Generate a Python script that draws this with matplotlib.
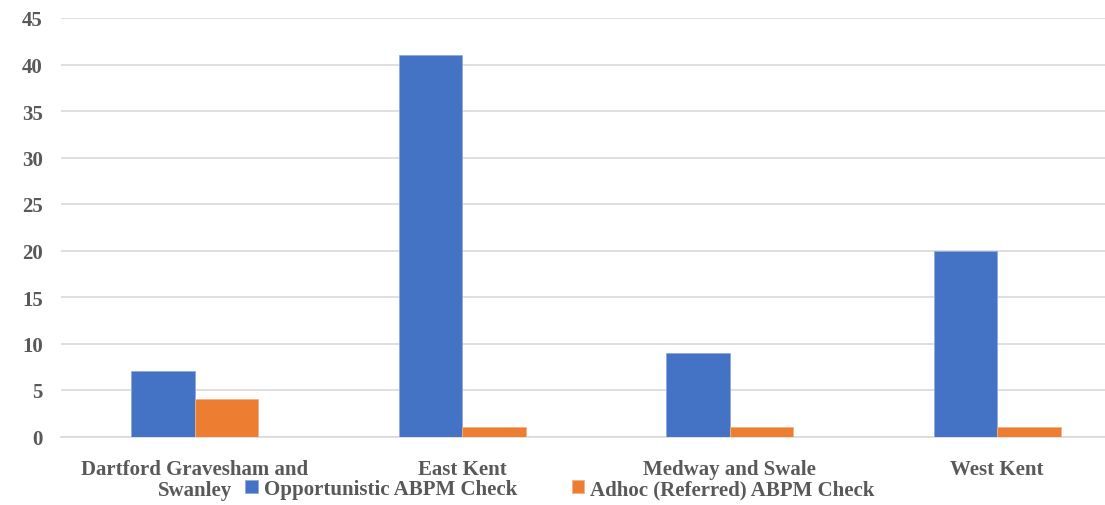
import matplotlib
matplotlib.use("Agg")
import matplotlib.pyplot as plt
import numpy as np

categories = ["Dartford Gravesham and\nSwanley", "East Kent", "Medway and Swale", "West Kent"]
series_names = ["Opportunistic ABPM Check", "Adhoc (Referred) ABPM Check"]
opportunistic = [7, 41, 9, 20]
adhoc = [4, 1, 1, 1]
yticks = [0, 5, 10, 15, 20, 25, 30, 35, 40, 45]

TEXT = "#595959"
GRID = "#d9d9d9"
BLUE = "#4472C4"
ORANGE = "#ED7D31"

plt.rcParams['font.family'] = ['Liberation Serif', 'DejaVu Serif']
plt.rcParams['font.weight'] = 'bold'

W, H = 1105, 506
FS = 15
fig = plt.figure(figsize=(W / 100, H / 100), dpi=100)
left = 61 / W
right = 1131 / W
bottom = 1 - 437.5 / H
top = 1 - 19 / H
ax = fig.add_axes([left, bottom, right - left, top - bottom])

x = np.arange(len(categories))
bw = 0.237
b1 = ax.bar(x - bw / 2, opportunistic, bw, color=BLUE, edgecolor="#8faadc", linewidth=0.6,
            label=series_names[0], zorder=3)
b2 = ax.bar(x + bw / 2, adhoc, bw, color=ORANGE, edgecolor="#f4b183", linewidth=0.6,
            label=series_names[1], zorder=3)

ax.set_xlim(-0.5, len(categories) - 0.5)
ax.set_ylim(0, 45)
ax.set_yticks(yticks)
ax.set_yticklabels([str(v) for v in yticks])
ax.set_xticks(x)
first_lines = [c.split("\n")[0] for c in categories]
ax.set_xticklabels(first_lines)
# continuation lines of wrapped category names, drawn below their tick label
for xi, c in zip(x, categories):
    parts = c.split("\n")
    for k, extra in enumerate(parts[1:], start=1):
        ax.annotate(extra, xy=(xi, 0), xycoords=('data', 'axes fraction'),
                    xytext=(0, -24.5 - 17.5 * k), textcoords='offset points',
                    ha='center', va='baseline', fontsize=FS, color=TEXT,
                    fontweight='bold', annotation_clip=False)
ax.grid(axis='y', color=GRID, linewidth=1.2, zorder=0)
ax.set_axisbelow(True)
for s in ['top', 'right', 'left']:
    ax.spines[s].set_visible(False)
ax.spines['bottom'].set_color(GRID)
ax.spines['bottom'].set_linewidth(1.2)
ax.tick_params(axis='y', length=0, pad=13, labelsize=FS, labelcolor=TEXT)
ax.tick_params(axis='x', length=0, pad=16, labelsize=FS, labelcolor=TEXT)

leg = fig.legend(handles=[b1, b2], labels=series_names, loc='center',
                 bbox_to_anchor=(560 / W, 1 - 490 / H), ncol=2, frameon=False,
                 handlelength=0.6, handleheight=0.6, handletextpad=0.3,
                 columnspacing=2.6, prop={'size': FS, 'weight': 'bold'})
for t in leg.get_texts():
    t.set_color(TEXT)

fig.savefig("out.png", dpi=100)
